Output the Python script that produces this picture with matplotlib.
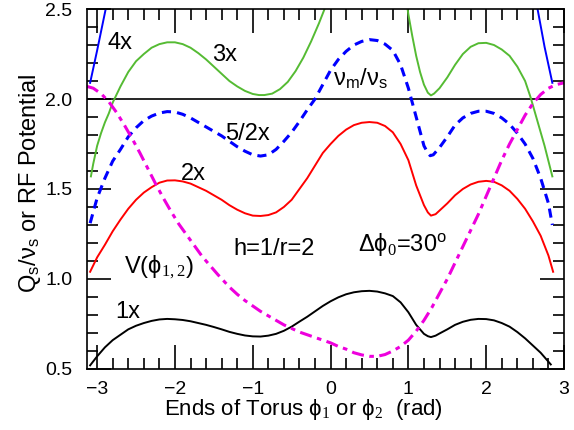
import numpy as np
import matplotlib
matplotlib.use('Agg')
import matplotlib.pyplot as plt
from matplotlib.ticker import MultipleLocator

plt.rcParams['font.family'] = ['Liberation Sans', 'DejaVu Sans']
plt.rcParams['mathtext.fontset'] = 'custom'
plt.rcParams['mathtext.rm'] = 'Liberation Sans'
plt.rcParams['mathtext.it'] = 'Liberation Sans:italic'
plt.rcParams['mathtext.sf'] = 'Liberation Serif'   # serif digits in phi subscripts

# Curves (phi in rad, Qs/nus or potential)
x_1x = [-3.09, -3.0, -2.9, -2.8, -2.7, -2.6, -2.5, -2.4, -2.3, -2.2, -2.1, -2.0, -1.9, -1.8,
        -1.7, -1.6, -1.5, -1.4, -1.3, -1.2, -1.1, -1.0, -0.9, -0.8, -0.7, -0.6, -0.5, -0.4,
        -0.3, -0.2, -0.1, 0.0, 0.1, 0.2, 0.3, 0.4, 0.5, 0.6, 0.7, 0.8, 0.9, 1.0, 1.1, 1.2,
        1.25, 1.29, 1.35, 1.4, 1.5, 1.6, 1.7, 1.8, 1.9, 2.0, 2.1, 2.2, 2.3, 2.4, 2.5, 2.6,
        2.7, 2.83]
y_1x = [0.52, 0.57, 0.62, 0.66, 0.69, 0.72, 0.74, 0.755, 0.767, 0.775, 0.778, 0.776, 0.772, 0.765,
        0.755, 0.745, 0.733, 0.72, 0.706, 0.695, 0.686, 0.681, 0.68, 0.685, 0.695, 0.712, 0.735, 0.763,
        0.79, 0.82, 0.85, 0.876, 0.898, 0.915, 0.926, 0.932, 0.934, 0.93, 0.92, 0.905, 0.87, 0.815, 0.745, 0.695,
        0.682, 0.677, 0.685, 0.697, 0.72, 0.745, 0.762, 0.773, 0.778, 0.777, 0.77, 0.755, 0.735, 0.705, 0.67, 0.63,
        0.59, 0.525]

x_2x = [-3.09, -3.0, -2.9, -2.8, -2.7, -2.6, -2.5, -2.4, -2.3, -2.2, -2.1, -2.0, -1.9, -1.8,
        -1.7, -1.6, -1.5, -1.4, -1.3, -1.2, -1.1, -1.0, -0.9, -0.8, -0.7, -0.6, -0.5, -0.4,
        -0.3, -0.2, -0.1, 0.0, 0.1, 0.2, 0.3, 0.4, 0.5, 0.6, 0.7, 0.8, 0.9, 1.0, 1.1, 1.2,
        1.25, 1.29, 1.35, 1.4, 1.5, 1.6, 1.7, 1.8, 1.9, 2.0, 2.1, 2.2, 2.3, 2.4, 2.5, 2.6,
        2.7, 2.8, 2.86]
y_2x = [1.04, 1.12, 1.19, 1.265, 1.33, 1.39, 1.44, 1.48, 1.51, 1.535, 1.547, 1.548, 1.542, 1.53,
        1.51, 1.49, 1.465, 1.44, 1.41, 1.385, 1.365, 1.352, 1.35, 1.355, 1.37, 1.40, 1.44, 1.50,
        1.56, 1.63, 1.70, 1.75, 1.795, 1.83, 1.855, 1.868, 1.872, 1.868, 1.85, 1.815, 1.75, 1.66, 1.52, 1.41,
        1.37, 1.352, 1.36, 1.38, 1.42, 1.465, 1.50, 1.525, 1.54, 1.545, 1.54, 1.52, 1.49, 1.445, 1.39, 1.32,
        1.24, 1.13, 1.04]

x_52x = [-3.09, -3.0, -2.9, -2.8, -2.7, -2.6, -2.5, -2.4, -2.3, -2.2, -2.1, -2.0, -1.9, -1.8,
         -1.7, -1.6, -1.5, -1.4, -1.3, -1.2, -1.1, -1.0, -0.9, -0.8, -0.7, -0.6, -0.5, -0.4,
         -0.3, -0.2, -0.1, 0.0, 0.1, 0.2, 0.3, 0.4, 0.5, 0.6, 0.7, 0.8, 0.9, 1.0, 1.1, 1.2,
         1.25, 1.28, 1.32, 1.4, 1.5, 1.6, 1.7, 1.8, 1.9, 2.0, 2.1, 2.2, 2.3, 2.4, 2.5, 2.6,
         2.7, 2.8, 2.85]
y_52x = [1.31, 1.45, 1.56, 1.655, 1.72, 1.79, 1.84, 1.88, 1.905, 1.922, 1.93, 1.928, 1.915, 1.895,
         1.87, 1.845, 1.82, 1.795, 1.765, 1.735, 1.71, 1.69, 1.683, 1.69, 1.72, 1.765, 1.815, 1.875,
         1.94, 2.00, 2.08, 2.16, 2.22, 2.265, 2.30, 2.32, 2.33, 2.325, 2.305, 2.27, 2.19, 2.06, 1.90, 1.74,
         1.70, 1.685, 1.69, 1.73, 1.79, 1.855, 1.895, 1.92, 1.932, 1.932, 1.92, 1.895, 1.86, 1.81, 1.75, 1.67,
         1.56, 1.42, 1.30]

x_3x = [-3.08, -3.05, -3.0, -2.95, -2.9, -2.85, -2.8, -2.7, -2.6, -2.5, -2.4, -2.3, -2.2, -2.1,
        -2.0, -1.9, -1.8, -1.7, -1.6, -1.5, -1.4, -1.3, -1.2, -1.1, -1.0, -0.92, -0.85, -0.75,
        -0.65, -0.55, -0.45, -0.35, -0.25, -0.15, -0.05, np.nan,
        0.97, 1.0, 1.05, 1.1, 1.15, 1.2, 1.25, 1.29, 1.33, 1.4, 1.5, 1.6, 1.7, 1.8, 1.9, 2.0,
        2.1, 2.2, 2.3, 2.4, 2.5, 2.57, 2.65, 2.75, 2.85]
y_3x = [1.57, 1.64, 1.74, 1.81, 1.87, 1.92, 1.98, 2.07, 2.15, 2.21, 2.25, 2.285, 2.305, 2.315,
        2.315, 2.305, 2.285, 2.255, 2.22, 2.18, 2.14, 2.10, 2.07, 2.045, 2.028, 2.022, 2.022, 2.03,
        2.055, 2.095, 2.155, 2.23, 2.32, 2.42, 2.53, np.nan,
        2.56, 2.47, 2.35, 2.24, 2.15, 2.08, 2.035, 2.02, 2.03, 2.06, 2.12, 2.19, 2.25, 2.29, 2.31, 2.312,
        2.30, 2.275, 2.24, 2.18, 2.10, 2.01, 1.89, 1.74, 1.57]

x_4x = [-3.09, -3.0, -2.89, -2.86, np.nan, 2.64, 2.66, 2.75, 2.85]
y_4x = [2.09, 2.27, 2.50, 2.56, np.nan, 2.56, 2.50, 2.29, 2.09]

x_v = [-3.13, -3.05, -2.95, -2.85, -2.75, -2.65, -2.55, -2.45, -2.35, -2.25, -2.15, -2.05, -1.95,
       -1.85, -1.75, -1.65, -1.55, -1.45, -1.3, -1.2, -1.1, -1.0, -0.9, -0.8, -0.7, -0.6, -0.5,
       -0.4, -0.3, -0.2, -0.1, 0.0, 0.1, 0.2, 0.3, 0.4, 0.5, 0.6, 0.7, 0.8, 0.9, 1.0, 1.1, 1.2,
       1.3, 1.4, 1.5, 1.6, 1.7, 1.8, 1.9, 2.0, 2.1, 2.2, 2.3, 2.4, 2.5, 2.6, 2.7, 2.8, 2.9, 3.0]
y_v = [2.07, 2.06, 2.03, 1.985, 1.925, 1.855, 1.78, 1.70, 1.615, 1.53, 1.45, 1.375, 1.305,
       1.245, 1.185, 1.125, 1.075, 1.025, 0.955, 0.915, 0.88, 0.85, 0.82, 0.795, 0.77, 0.745, 0.725,
       0.705, 0.69, 0.675, 0.66, 0.645, 0.625, 0.61, 0.59, 0.578, 0.57, 0.57, 0.58, 0.60, 0.625, 0.66, 0.71, 0.77,
       0.84, 0.92, 1.0, 1.09, 1.18, 1.27, 1.36, 1.46, 1.56, 1.66, 1.75, 1.83, 1.91, 1.975, 2.025, 2.06, 2.08, 2.09]

fig = plt.figure(figsize=(5.74, 4.30), dpi=100)
ax = fig.add_axes([0.1516, 0.142, 0.831, 0.837])

ax.axhline(2.0, color='black', lw=1.2)
ax.plot(x_1x, y_1x, color='black', lw=1.4)
ax.plot(x_2x, y_2x, color='#ff0000', lw=1.4)
ax.plot(x_52x, y_52x, color='#0000ff', lw=2.2, dashes=(3, 2))
ax.plot(x_3x, y_3x, color='#55bb33', lw=1.4)
ax.plot(x_4x, y_4x, color='#0000ff', lw=1.4)
ax.plot(x_v, y_v, color='#ee00dd', lw=2.2, dashes=(4, 1.8, 1.5, 1.8))

ax.set_xlim(-3.13, 3.0)
ax.set_ylim(0.5, 2.5)
ax.xaxis.set_minor_locator(MultipleLocator(0.2))
ax.yaxis.set_minor_locator(MultipleLocator(0.1))
ax.tick_params(which='both', direction='in', top=True, right=True, labelsize=14, width=1.2)
ax.tick_params(which='major', length=17)
ax.tick_params(which='minor', length=8)
ax.tick_params(axis='x', which='major', pad=9)
ax.tick_params(axis='y', which='major', pad=10.5)
ax.set_xticks([-3, -2, -1, 0, 1, 2, 3])
ax.set_xticklabels(['\u22123', '\u22122', '\u22121', '0', '1', '2', '3'])
ax.set_yticks([0.5, 1.0, 1.5, 2.0, 2.5])
ax.set_yticklabels(['0.5', '1.0', '1.5', '2.0', '2.5'])
for s in ax.spines.values():
    s.set_linewidth(1.2)

ax.set_xlabel('Ends of Torus \u03d5$_\\mathsf{1}$ or \u03d5$_\\mathsf{2}$  (rad)', fontsize=16)
ax.xaxis.set_label_coords(0.453, -0.078)
ax.set_ylabel('Q$_\\mathrm{s}$/\u03bd$_\\mathrm{s}$ or RF Potential', fontsize=17)
ax.yaxis.set_label_coords(-0.092, 0.515)

fs = 17
ax.text(-2.87, 2.28, '4x', fontsize=fs)
ax.text(-1.52, 2.21, '3x', fontsize=fs)
ax.text(0.03, 2.078, '\u03bd$_\\mathrm{m}$/\u03bd$_\\mathrm{s}$', fontsize=fs)
ax.text(-1.35, 1.77, '5/2x', fontsize=fs)
ax.text(-1.93, 1.55, '2x', fontsize=fs)
ax.text(-1.25, 1.133, 'h=1/r=2', fontsize=fs)
ax.text(0.35, 1.15, '\u0394\u03d5$_\\mathsf{0}$=30$^\\mathrm{o}$', fontsize=fs)
ax.text(-2.66, 1.033, 'V(\u03d5$_\\mathsf{1,2}$)', fontsize=fs)
ax.text(-2.77, 0.783, '1x', fontsize=fs)

fig.savefig('out.png', dpi=100)
